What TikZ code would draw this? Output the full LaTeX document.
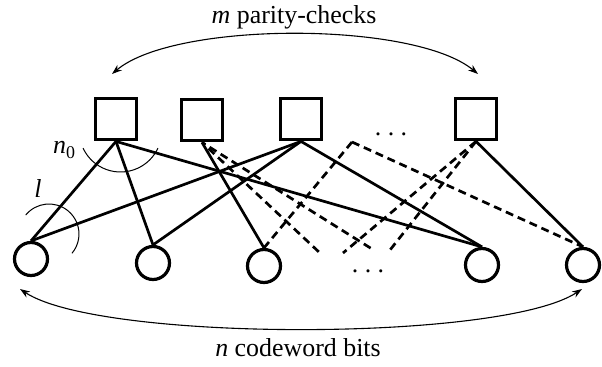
\documentclass[tikz,border=0pt]{standalone}
\usepackage{fontspec}
\setmainfont{Liberation Serif}
\usetikzlibrary{arrows.meta}
\begin{document}
\begin{tikzpicture}[x=1bp,y=1bp,
  chk/.style={draw, rectangle, line width=3.8bp, minimum size=41bp, inner sep=0pt},
  vbit/.style={draw, circle, line width=3.2bp, minimum size=33bp, inner sep=0pt},
  edge/.style={line width=2.7bp},
  dedge/.style={line width=2.7bp, dash pattern=on 8bp off 5bp},
  thinarc/.style={line width=1bp},
  span/.style={line width=1.1bp, {Stealth[length=10bp,width=7bp]}-{Stealth[length=10bp,width=7bp]}},
  lbl/.style={font=\fontsize{26}{30}\selectfont, inner sep=0pt}
]
\useasboundingbox (0,0) rectangle (602,366);
% check nodes
\node[chk] (c1) at (116,247) {};
\node[chk] (c2) at (202,246) {};
\node[chk] (c3) at (301,247) {};
\node[chk] (c4) at (476,247) {};
% bit nodes
\node[vbit] (v1) at (31,107) {};
\node[vbit] (v2) at (153,103) {};
\node[vbit] (v3) at (264,100) {};
\node[vbit] (v4) at (482,101) {};
\node[vbit] (v5) at (583,101) {};
% free ends of dashed connectors
\coordinate (p) at (352,224);
\coordinate (e1) at (320,113);
\coordinate (e2) at (372,117);
\coordinate (e3) at (343,113);
\coordinate (e4) at (390,116);
% solid edges
\draw[edge] (c1.south) -- (v1.north);
\draw[edge] (c1.south) -- (v2.north);
\draw[edge] (c1.south) -- (v4.north);
\draw[edge] (c2.south) -- (v3.north);
\draw[edge] (c3.south) -- (v1.north);
\draw[edge] (c3.south) -- (v2.north);
\draw[edge] (c3.south) -- (v4.north);
\draw[edge] (c4.south) -- (v5.north);
% dashed edges
\draw[dedge, dash phase=4bp] (c2.south) -- (e1);
\draw[dedge, dash phase=4bp] (c2.south) -- (e2);
\draw[dedge] (c4.south) -- (e3);
\draw[dedge] (c4.south) -- (e4);
\draw[dedge] (p) -- (v3.north);
\draw[dedge] (p) -- (v5.north);
% ellipses
\node[lbl, anchor=base] (dtop) at (391,231) {.\ .\ .};
\node[lbl, anchor=base] (dbot) at (368,94) {.\ .\ .};
% degree arcs
\draw[thinarc] (120.5,235.3) ++(205:41.3) arc[start angle=205, end angle=335, radius=41.3];
\draw[thinarc] (49,132) ++(141:30) arc[start angle=141, end angle=-40, radius=30];
\node[lbl, anchor=base west] (n0) at (53,213) {\textit{n}\raisebox{-5bp}{\fontsize{18}{18}\selectfont 0}};
\node[lbl, anchor=base] (l) at (38,169) {\textit{l}};
% span arrows
\draw[span] (112,292) .. controls (175,345) and (414,345) .. (478,292);
\draw[span] (20,77) .. controls (100,24) and (502,24) .. (582,77);
\node[lbl, anchor=base] (top) at (294,343) {\textit{m} parity-checks};
\node[lbl, anchor=base] (bot) at (298,10) {\textit{n} codeword bits};
\end{tikzpicture}
\end{document}
